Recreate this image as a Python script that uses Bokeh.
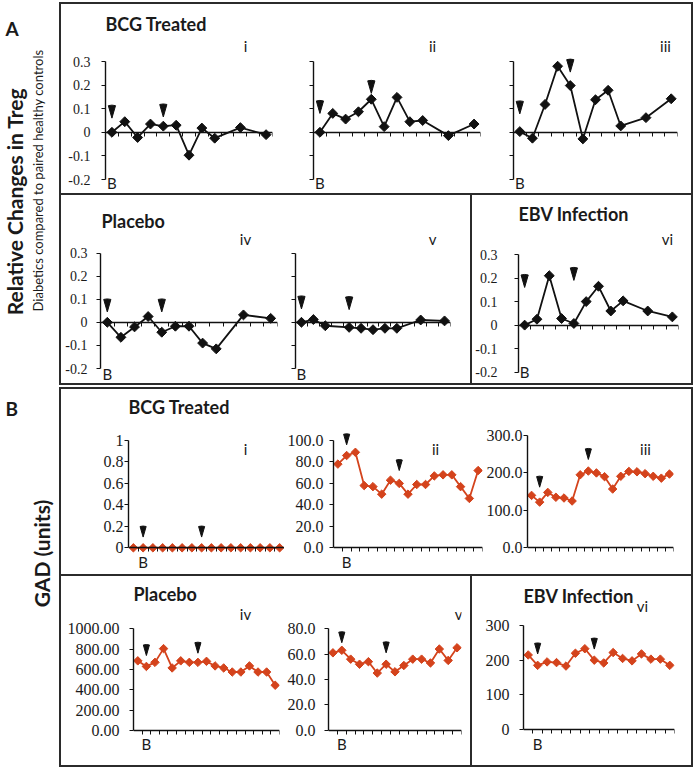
import math
from bokeh.plotting import figure
from bokeh.models import Range1d, FixedTicker, NumeralTickFormatter, Label, Spacer
from bokeh.layouts import row, column
from bokeh.embed import file_html
from bokeh.resources import INLINE

# ---------------- data ----------------
# Panel A: relative change in Treg (time-point index, value)
A_T = [0, 1, 2, 3, 4, 5, 6, 7, 8, 10, 12]
A_T_V = [0, 1, 2, 4, 5, 6, 7, 8, 10, 12]
A_NCAT = 13
A_I = [0, 0.045, -0.022, 0.035, 0.026, 0.03, -0.097, 0.018, -0.025, 0.02, -0.01]
A_II = [0, 0.08, 0.056, 0.087, 0.14, 0.024, 0.148, 0.045, 0.05, -0.014, 0.035]
A_III = [0.003, -0.025, 0.118, 0.28, 0.198, -0.028, 0.138, 0.178, 0.027, 0.062, 0.142]
A_IV = [0, -0.065, -0.02, 0.025, -0.043, -0.017, -0.017, -0.09, -0.115, 0.032, 0.017]
A_V = [0, 0.012, -0.015, -0.022, -0.026, -0.032, -0.026, -0.026, 0.01, 0.006]
A_VI = [0, 0.025, 0.21, 0.028, 0.007, 0.1, 0.165, 0.06, 0.103, 0.06, 0.035]
A_ARROW_T = [0, 4]
A_I_ARROW = [0.06, 0.065]
A_II_ARROW = [0.08, 0.165]
A_III_ARROW = [0.078, 0.255]
A_IV_ARROW = [0.045, 0.045]
A_V_ARROW = [0.058, 0.055]
A_VI_ARROW = [0.16, 0.19]
A_YTICKS = [-0.2, -0.1, 0, 0.1, 0.2, 0.3]
A_B_AT = 0

# Panel B: GAD units
B_I = [0, 0, 0, 0, 0, 0, 0, 0, 0, 0, 0, 0, 0, 0, 0, 0]
B_II = [78, 86, 89, 58, 57, 50, 63, 60, 50, 59, 59, 67, 68, 68, 57, 46, 72]
B_III = [140, 122, 148, 135, 133, 125, 195, 205, 200, 190, 157, 191, 204, 203, 198, 191, 186, 197]
B_IV = [685, 630, 670, 805, 615, 685, 670, 670, 680, 635, 615, 575, 575, 635, 575, 575, 445]
B_V = [61, 63, 56, 52, 54, 45, 52, 46, 51, 56, 56, 53, 64, 55, 65]
B_VI = [215, 185, 195, 193, 183, 220, 233, 200, 192, 222, 205, 198, 218, 203, 203, 185]
B_ARROW_T = [1, 7]
B_V_ARROW_T = [1, 6]
B_I_ARROW = [0.1, 0.1]
B_II_ARROW = [96, 72]
B_III_ARROW = [162, 236]
B_IV_ARROW = [737, 760]
B_V_ARROW = [69, 61]
B_VI_ARROW = [218, 232]
B_I_YTICKS = [0, 0.2, 0.4, 0.6, 0.8, 1]
B_II_YTICKS = [0, 20, 40, 60, 80, 100]
B_III_YTICKS = [0, 100, 200, 300]
B_IV_YTICKS = [0, 200, 400, 600, 800, 1000]
B_V_YTICKS = [0, 20, 40, 60, 80]
B_VI_YTICKS = [0, 100, 200, 300]
B_B_AT = 1

# ---------------- style ----------------
BLACK = "#111111"
RED = "#d4431c"
LINE = "#2b2b2b"
TEXT = "#1a1a1a"
SERIF = "Liberation Serif"
SANS = "Lato"
TITLE_PX = "18px"


def panel(W, H, mbl, fw, top_px, bot_px, lo, hi, n, t, v, at, av, yticks, fmt,
          color, msize, ylab_px, ystand, arrow_r, show_ylabels=True, lw=1.8):
    mbr = W - mbl - fw
    s = (bot_px - top_px) / (hi - lo)
    p = figure(width=W, height=H, x_range=Range1d(-0.5, n - 0.5),
               y_range=Range1d(lo - (H - bot_px) / s, hi + top_px / s),
               title=None, toolbar_location=None, output_backend="svg",
               min_border_left=mbl, min_border_right=mbr,
               min_border_top=0, min_border_bottom=0,
               outline_line_color=None, background_fill_color="white",
               border_fill_color="white")
    p.grid.visible = False
    xa = p.xaxis[0]
    xa.fixed_location = 0
    xa.ticker = FixedTicker(ticks=[], minor_ticks=[k + 0.5 for k in range(n)])
    xa.minor_tick_out = 4
    xa.minor_tick_in = 0
    xa.minor_tick_line_color = BLACK
    xa.axis_line_color = BLACK
    xa.axis_line_width = 1.4
    ya = p.yaxis[0]
    ya.bounds = (lo, hi)
    ya.axis_line_color = BLACK
    ya.axis_line_width = 1.4
    if show_ylabels:
        ya.ticker = FixedTicker(ticks=yticks, minor_ticks=[])
        ya.formatter = NumeralTickFormatter(format=fmt)
        ya.minor_tick_line_color = None
        ya.major_tick_out = 4
        ya.major_tick_in = 0
        ya.major_tick_line_color = BLACK
        ya.major_label_text_font = SERIF
        ya.major_label_text_font_size = ylab_px
        ya.major_label_text_color = TEXT
        ya.major_label_standoff = ystand
    else:
        ya.ticker = FixedTicker(ticks=[], minor_ticks=yticks)
        ya.minor_tick_out = 4
        ya.minor_tick_in = 0
        ya.minor_tick_line_color = BLACK
    p.line(t, v, line_color=color, line_width=lw)
    p.scatter(t, v, marker="square", angle=math.pi / 4, size=msize,
              fill_color=color, line_color=color)
    p.wedge(x=at, y=av, radius=arrow_r, radius_units="screen",
            start_angle=math.pi / 2 - 0.28, end_angle=math.pi / 2 + 0.28,
            fill_color=BLACK, line_color=BLACK)
    return p


def lab(p, text, x, rel, size="15px", bold=False, align="center", xdata=False):
    p.add_layout(Label(x=x, y=p.height - rel, x_units="data" if xdata else "screen",
                       y_units="screen", text=text, text_font=SANS, text_font_size=size,
                       text_font_style="bold" if bold else "normal",
                       text_color=TEXT, text_align=align, text_baseline="middle"))


# ---- Panel A top (BCG) ----
H1 = 189
pa1 = panel(229, H1, 44, 167, 57, 175, -0.2, 0.3, A_NCAT, A_T, A_I, A_ARROW_T, A_I_ARROW,
            A_YTICKS, "0.[0]", BLACK, 7, "14px", 11, 13)
pa2 = panel(207, H1, 23, 167, 57, 175, -0.2, 0.3, A_NCAT, A_T, A_II, A_ARROW_T, A_II_ARROW,
            A_YTICKS, "0.[0]", BLACK, 7, "14px", 0, 13, show_ylabels=False)
pa3 = panel(194, H1, 16, 164, 57, 175, -0.2, 0.3, A_NCAT, A_T, A_III, A_ARROW_T, A_III_ARROW,
            A_YTICKS, "0.[0]", BLACK, 7, "14px", 0, 13, show_ylabels=False)
lab(pa1, "BCG Treated", 0, 19, TITLE_PX, True, "left")
lab(pa1, "i", 140, 41)
lab(pa2, "ii", 119, 41)
lab(pa3, "iii", 152, 41)
for p in (pa1, pa2, pa3):
    lab(p, "B", A_B_AT, 178, xdata=True)

# ---- Panel A bottom (Placebo, EBV) ----
H2 = 188
pa4 = panel(222, H2, 39, 177, 57.5, 173, -0.2, 0.3, A_NCAT, A_T, A_IV, A_ARROW_T, A_IV_ARROW,
            A_YTICKS, "0.[0]", BLACK, 7, "14px", 9, 13)
pa5 = panel(187, H2, 12, 155, 57.5, 173, -0.2, 0.3, A_NCAT, A_T_V, A_V, A_ARROW_T, A_V_ARROW,
            A_YTICKS, "0.[0]", BLACK, 7, "14px", 0, 13, show_ylabels=False)
pa6 = panel(219, H2, 46, 160, 59, 176.7, -0.2, 0.3, A_NCAT, A_T, A_VI, A_ARROW_T, A_VI_ARROW,
            A_YTICKS, "0.[0]", BLACK, 7, "14px", 17, 13)
lab(pa4, "Placebo", 1, 25, TITLE_PX, True, "left")
lab(pa6, "EBV Infection", 0, 18.3, TITLE_PX, True, "left")
lab(pa4, "iv", 145, 43)
lab(pa5, "v", 137, 43)
lab(pa6, "vi", 149, 43)
lab(pa4, "B", A_B_AT, 178.3, xdata=True)
lab(pa5, "B", A_B_AT, 178, xdata=True)
lab(pa6, "B", A_B_AT, 176.7, xdata=True)

# ---- Panel B top (BCG) ----
H3 = 185
pb1 = panel(223, H3, 67, 156, 51, 158.3, 0, 1, len(B_I), list(range(len(B_I))), B_I,
            B_ARROW_T, B_I_ARROW, B_I_YTICKS, "0.[0]", RED, 6, "16px", 1, 11)
pb2 = panel(199, H3, 48, 150, 51, 158.3, 0, 100, len(B_II), list(range(len(B_II))), B_II,
            B_ARROW_T, B_II_ARROW, B_II_YTICKS, "0.0", RED, 6, "16px", 6, 11)
pb3 = panel(208, H3, 43, 147, 46, 158.3, 0, 300, len(B_III), list(range(len(B_III))), B_III,
            B_ARROW_T, B_III_ARROW, B_III_YTICKS, "0.0", RED, 6, "16px", 1, 11)
lab(pb1, "BCG Treated", 0, 17.7, TITLE_PX, True, "left")
lab(pb1, "i", 117, 59)
lab(pb2, "ii", 102, 59)
lab(pb3, "iii", 118, 59)
lab(pb1, "B", B_B_AT, 172.7, xdata=True)
lab(pb2, "B", B_B_AT, 172.7, xdata=True)

# ---- Panel B bottom (Placebo, EBV) ----
H4 = 189
pb4 = panel(222, H4, 72, 146, 52.3, 154, 0, 1000, len(B_IV), list(range(len(B_IV))), B_IV,
            B_ARROW_T, B_IV_ARROW, B_IV_YTICKS, "0.00", RED, 6, "16px", 10, 11)
pb5 = panel(187, H4, 45, 133, 52.3, 153.5, 0, 80, len(B_V), list(range(len(B_V))), B_V,
            B_V_ARROW_T, B_V_ARROW, B_V_YTICKS, "0.0", RED, 6, "16px", 9, 11)
pb6 = panel(219, H4, 51, 151, 49, 153, 0, 300, len(B_VI), list(range(len(B_VI))), B_VI,
            B_ARROW_T, B_VI_ARROW, B_VI_YTICKS, "0", RED, 6, "16px", 10, 11)
lab(pb4, "Placebo", 0, 17.3, TITLE_PX, True, "left")
lab(pb6, "EBV Infection", 0, 19, TITLE_PX, True, "left")
lab(pb4, "iv", 112, 37.3)
lab(pb5, "v", 130, 37.3)
lab(pb6, "vi", 119, 29)
for p in (pb4, pb5, pb6):
    lab(p, "B", B_B_AT, 167.3, xdata=True)


# ---- box lines ----
BW = 634


def hl(w=BW):
    return Spacer(width=w, height=2, styles={"background-color": LINE})


def vl(h):
    return Spacer(width=2, height=h, styles={"background-color": LINE})


boxes = column(
    Spacer(width=BW, height=2),
    hl(),
    row(vl(H1), pa1, pa2, pa3, vl(H1)),
    hl(),
    row(vl(H2), pa4, pa5, vl(H2), pa6, vl(H2)),
    hl(),
    Spacer(width=BW, height=2),
    hl(),
    row(vl(H3), pb1, pb2, pb3, vl(H3)),
    hl(),
    row(vl(H4), pb4, pb5, vl(H4), pb6, vl(H4)),
    hl(),
)

# ---- left labels ----
LH = 767
left = figure(width=59, height=LH, x_range=Range1d(0, 59), y_range=Range1d(0, LH),
              title=None, min_border=0, toolbar_location=None, output_backend="svg",
              outline_line_color=None)
left.axis.visible = False
left.grid.visible = False


def ltext(text, x, cy, size, bold, angle=0.0, align="left"):
    left.add_layout(Label(x=x, y=LH - cy, x_units="screen", y_units="screen", text=text,
                          text_font=SANS, text_font_size=size,
                          text_font_style="bold" if bold else "normal",
                          text_color=TEXT, angle=angle, text_align=align,
                          text_baseline="middle"))


ltext("A", 5, 27.5, "19px", True)
ltext("Relative Changes in Treg", 14, 201, "21px", True, math.pi / 2, "center")
ltext("Diabetics compared to paired healthy controls", 37, 180, "13px", False, math.pi / 2, "center")
ltext("B", 5, 407.5, "19px", True)
ltext("GAD (units)", 41, 553, "21px", True, math.pi / 2, "center")

root = row(left, boxes)
open("out.html", "w").write(file_html(root, INLINE))
